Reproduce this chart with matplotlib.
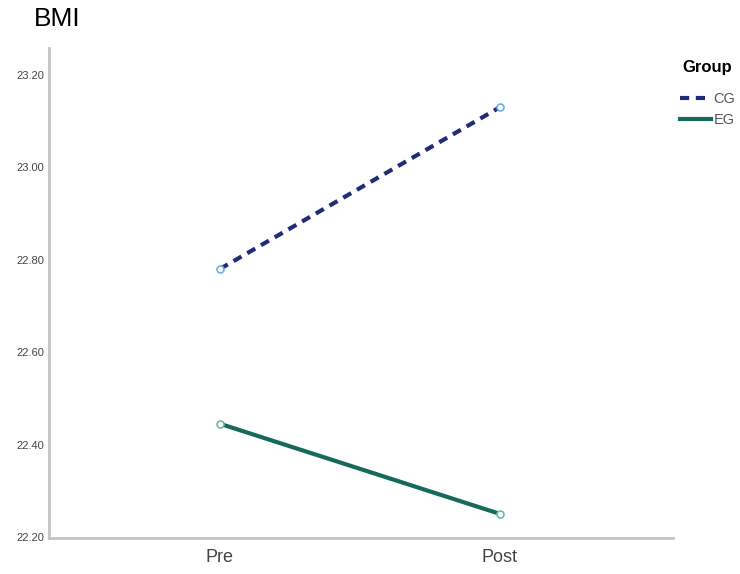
import matplotlib.pyplot as plt

plt.rcParams['font.family'] = ['Liberation Sans', 'DejaVu Sans']

time_points = ['Pre', 'Post']
cg_bmi = [22.78, 23.13]
eg_bmi = [22.445, 22.25]
y_ticks = [22.20, 22.40, 22.60, 22.80, 23.00, 23.20]

fig = plt.figure(figsize=(7.4, 5.74), dpi=100)
ax = fig.add_axes([0.066, 0.063, 0.843, 0.853])

x = range(len(time_points))
ax.plot(x, cg_bmi, color='#1f2d78', lw=3, ls=(0, (2.2, 1.6)), label='CG',
        marker='o', ms=5, mfc='white', mec='#6ab0e6', mew=1.2)
ax.plot(x, eg_bmi, color='#17695c', lw=3, label='EG',
        marker='o', ms=5, mfc='white', mec='#6fb8ad', mew=1.2)

ax.set_xlim(-0.611, 1.618)
ax.set_ylim(22.198, 23.258)
ax.set_xticks(list(x))
ax.set_xticklabels(time_points, fontsize=13, color='#444444')
ax.set_yticks(y_ticks)
ax.set_yticklabels(['%.2f' % v for v in y_ticks], fontsize=8, color='#444444')
ax.tick_params(length=0, pad=8)
ax.tick_params(axis='y', pad=3)

for s in ['top', 'right']:
    ax.spines[s].set_visible(False)
for s in ['left', 'bottom']:
    ax.spines[s].set_color('#c4c4c4')
    ax.spines[s].set_linewidth(2)

fig.text(0.046, 0.967, 'BMI', fontsize=19, va='center', ha='left')

# legend title placed by hand, entries below it
fig.text(0.922, 0.882, 'Group', fontsize=12, fontweight='bold', va='center', ha='left')
leg = ax.legend(loc='upper left', bbox_to_anchor=(1.012, 0.91), frameon=False,
                fontsize=10.5, handlelength=2.1, handletextpad=0.2,
                labelspacing=0.45, borderaxespad=0, borderpad=0)
for t in leg.get_texts():
    t.set_color('#555555')
for h in leg.legend_handles:
    h.set_marker('')

fig.savefig('out.png', dpi=100)
